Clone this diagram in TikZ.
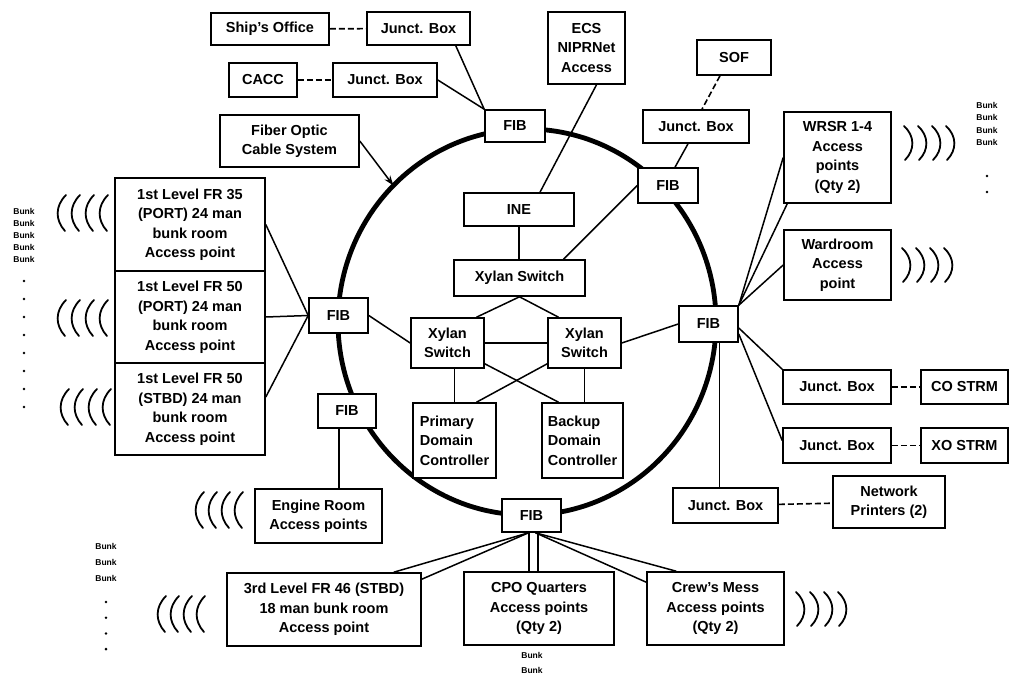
\documentclass[tikz,border=0pt]{standalone}
\usepackage{fontspec}
\setmainfont{Liberation Sans}
\usetikzlibrary{arrows.meta}
\tikzset{
  box/.style={draw, line width=1.6pt, fill=white, align=center, inner sep=0pt,
    font=\bfseries\fontsize{14.5}{19.5}\selectfont},
  link/.style={line width=1.5pt},
  dlink/.style={line width=1.6pt, dash pattern=on 6pt off 3pt},
  ring/.style={line width=4.8pt},
  wave/.style={line width=1.8pt, line cap=round},
  bunk/.style={align=center, inner sep=0pt, anchor=north},
  dotmark/.style={fill=black}
}
\newcommand\wavL[3]{%
  \foreach \k in {0,1,2,3}{\draw[wave] ({#1+#3*\k+9},{#2-18}) .. controls ({#1+#3*\k-2},{#2-7}) and ({#1+#3*\k-2},{#2+7}) .. ({#1+#3*\k+8},{#2+18});}}
\newcommand\wavR[3]{%
  \foreach \k in {0,1,2,3}{\draw[wave] ({#1-#3*\k-9},{#2-17}) .. controls ({#1-#3*\k+2},{#2-7}) and ({#1-#3*\k+2},{#2+7}) .. ({#1-#3*\k-8},{#2+17});}}
\begin{document}
\begin{tikzpicture}[x=1pt,y=-1pt]
\useasboundingbox (0,0) rectangle (1013,678);
% ring
\draw[ring] (527,322) ellipse [x radius=189pt, y radius=193pt];
\coordinate (ringpt) at (393.4,185.5);

% top left
\node[box, minimum width=118pt, minimum height=32pt] (ship) at (270,29) {Ship's Office};
\node[box, minimum width=103pt, minimum height=33pt] (jb1) at (418.5,28.5) {Junct. Box};
\node[box, minimum width=68pt, minimum height=34pt] (cacc) at (263,80) {CACC};
\node[box, minimum width=104pt, minimum height=34pt] (jb2) at (385,80) {Junct. Box};
\node[box, minimum width=139pt, minimum height=52pt] (fiber) at (289.5,141) {Fiber Optic\\Cable System};
\node[box, minimum width=60pt, minimum height=32pt] (fibt) at (515,126) {FIB};
\node[box, minimum width=77pt, minimum height=72pt] (ecs) at (586.5,48) {ECS\\NIPRNet\\Access};
% top right
\node[box, minimum width=74pt, minimum height=35pt] (sof) at (734,57.5) {SOF};
\node[box, minimum width=106pt, minimum height=33pt] (jbs) at (696,126.5) {Junct. Box};
\node[box, minimum width=60pt, minimum height=35pt] (fibur) at (668,185.5) {FIB};
\node[box, minimum width=107pt, minimum height=91pt] (wrsr) at (837.5,157.5) {WRSR 1-4\\Access\\points\\(Qty 2)};
\node[box, minimum width=107pt, minimum height=70pt] (ward) at (837.5,265) {Wardroom\\Access\\point};
% centre
\node[box, minimum width=110pt, minimum height=33pt] (ine) at (519,209.5) {INE};
\node[box, minimum width=131pt, minimum height=36pt] (xt) at (519.5,278) {Xylan Switch};
\node[box, minimum width=73pt, minimum height=50pt] (xl) at (447.5,343) {Xylan\\Switch};
\node[box, minimum width=73pt, minimum height=50pt] (xr) at (584.5,343) {Xylan\\Switch};
\node[box, minimum width=83pt, minimum height=75pt, align=left] (pdc) at (454.5,440.5) {Primary\\Domain\\Controller};
\node[box, minimum width=81pt, minimum height=75pt, align=left] (bdc) at (582.5,440.5) {Backup\\Domain\\Controller};
% ring FIBs
\node[box, minimum width=59pt, minimum height=35pt] (fibl) at (338.5,315.5) {FIB};
\node[box, minimum width=59pt, minimum height=36pt] (fibr) at (708.5,324) {FIB};
\node[box, minimum width=58pt, minimum height=34pt] (fibll) at (347,411) {FIB};
\node[box, minimum width=59pt, minimum height=33pt] (fibb) at (531.5,515.5) {FIB};
% left column
\node[box, minimum width=150pt, minimum height=93pt] (l1) at (190,224.5) {1st Level FR 35\\(PORT) 24 man\\bunk room\\Access point};
\node[box, minimum width=150pt, minimum height=92pt] (l2) at (190,317) {1st Level FR 50\\(PORT) 24 man\\bunk room\\Access point};
\node[box, minimum width=150pt, minimum height=92pt] (l3) at (190,409) {1st Level FR 50\\(STBD) 24 man\\bunk room\\Access point};
% bottom
\node[box, minimum width=127pt, minimum height=54pt] (eng) at (318.5,516) {Engine Room\\Access points};
\node[box, minimum width=194pt, minimum height=73pt] (third) at (324,609.5) {3rd Level FR 46 (STBD)\\18 man bunk room\\Access point};
\node[box, minimum width=150pt, minimum height=73pt] (cpo) at (539,608.5) {CPO Quarters\\Access points\\(Qty 2)};
\node[box, minimum width=137pt, minimum height=73pt] (crew) at (715.5,608.5) {Crew's Mess\\Access points\\(Qty 2)};
% right
\node[box, minimum width=108pt, minimum height=34pt] (jbco) at (837,387) {Junct. Box};
\node[box, minimum width=87pt, minimum height=34pt] (co) at (964.5,387) {CO STRM};
\node[box, minimum width=108pt, minimum height=35pt] (jbxo) at (837,445.5) {Junct. Box};
\node[box, minimum width=87pt, minimum height=35pt] (xo) at (964.5,445.5) {XO STRM};
\node[box, minimum width=105pt, minimum height=35pt] (jbp) at (725.5,505.5) {Junct. Box};
\node[box, minimum width=112pt, minimum height=52pt] (prn) at (889,502) {Network\\Printers (2)};

% dashed links
\draw[dlink] (ship) -- (jb1);
\draw[dlink] (cacc) -- (jb2);
\draw[dlink] ([xshift=-14pt]sof.south) -- ([xshift=6pt]jbs.north);
\draw[dlink] (jbco) -- (co);
\draw[dlink] (jbxo) -- (xo);
\draw[dlink] (jbp) -- (prn);

% solid links
\draw[link] ([xshift=-15pt]jb1.south east) -- (fibt.north west);
\draw[link] (jb2.east) -- (fibt.north west);
\draw[link, -{Stealth[length=10pt,width=7pt]}] (fiber.east) -- (ringpt);
\draw[link] ([xshift=10pt]ecs.south) -- ([xshift=21pt]ine.north);
\draw[link] ([xshift=-8pt]jbs.south) -- ([xshift=7pt]fibur.north);
\draw[link] (fibur.west) -- ([xshift=44pt]xt.north);
\draw[link] (ine.south) -- (ine.south |- xt.north);
\draw[link] (xt.south) -- ([xshift=29pt]xl.north);
\draw[link] (xt.south) -- ([xshift=-26pt]xr.north);
\draw[link] (xl) -- (xr);
\draw[link] (pdc.north |- xl.south) -- (pdc.north);
\draw[link] (xr.south) -- (xr.south |- bdc.north);
\draw[link] ([yshift=5pt]xl.south east) -- ([xshift=-24pt]bdc.north);
\draw[link] ([yshift=5pt]xr.south west) -- ([xshift=22pt]pdc.north);
\draw[link] (fibl.east) -- (xl.west);
\draw[link] (fibr.west) -- (xr.east);
\draw[link] (fibl.west) -- (l1.east);
\draw[link] (fibl.west) -- (l2.east);
\draw[link] (fibl.west) -- ([yshift=12pt]l3.east);
\draw[link] ([xshift=-8pt]fibll.south) -- ([xshift=-8pt]fibll.south |- eng.north);
\draw[link] ([xshift=11pt]fibr.south) -- ([xshift=11pt]fibr.south |- jbp.north);
\draw[link] (fibr.north east) -- (wrsr.west);
\draw[link] (fibr.north east) -- ([xshift=4pt]wrsr.south west);
\draw[link] (fibr.north east) -- (ward.west);
\draw[link] ([yshift=-4pt]fibr.east) -- (jbco.north west);
\draw[link] ([yshift=-10pt]fibr.east) -- ([yshift=5pt]jbxo.west);
\draw[link] ([xshift=-3pt]fibb.south) -- ([xshift=-28pt]third.north east);
\draw[link] ([xshift=-3pt]fibb.south) -- ([yshift=-7pt]third.north east);
\draw[link] ([xshift=-2.5pt]fibb.south) -- ([xshift=-2.5pt]fibb.south |- cpo.north);
\draw[link] ([xshift=6.5pt]fibb.south) -- ([xshift=6.5pt]fibb.south |- cpo.north);
\draw[link] ([xshift=4pt]fibb.south) -- ([yshift=-11pt]crew.north west);
\draw[link] ([xshift=4pt]fibb.south) -- ([xshift=30pt]crew.north west);

% waves
\wavL{57}{213}{14}
\wavL{57}{318}{14}
\wavL{60}{407}{14}
\wavL{195}{510}{13}
\wavL{157}{614}{13}
\wavR{955}{143}{14}
\wavR{953}{265}{14}
\wavR{847}{609}{14}

% bunk labels
\node[bunk, font=\bfseries\fontsize{8.5}{12}\selectfont] (bunkl) at (24,208) {Bunk\\Bunk\\Bunk\\Bunk\\Bunk};
\foreach \k in {0,...,7}{\fill[dotmark] (24,{281+18*\k}) circle (1.4pt);}
\node[bunk, font=\bfseries\fontsize{8.5}{12.5}\selectfont] (bunkr) at (987,102) {Bunk\\Bunk\\Bunk\\Bunk};
\fill[dotmark] (987,176) circle (1.4pt);
\fill[dotmark] (987,192) circle (1.4pt);
\node[bunk, font=\bfseries\fontsize{8.5}{16}\selectfont] (bunkll) at (106,543) {Bunk\\Bunk\\Bunk};
\foreach \k in {0,...,3}{\fill[dotmark] (106,{602+15.7*\k}) circle (1.4pt);}
\node[bunk, font=\bfseries\fontsize{8.5}{15}\selectfont] (bunkb) at (532,652) {Bunk\\Bunk};
\end{tikzpicture}
\end{document}
